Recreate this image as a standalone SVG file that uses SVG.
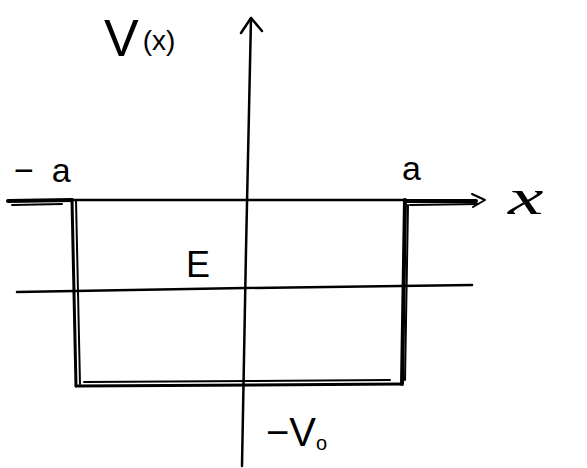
<svg xmlns="http://www.w3.org/2000/svg" width="587" height="468" viewBox="0 0 587 468">
<style>
.ln{fill:none;stroke:#000;stroke-linecap:round;stroke-linejoin:round}
.t{font-family:"Liberation Sans",sans-serif;fill:#000}
.s{font-family:"Liberation Serif",serif;font-style:italic;fill:#000}
</style>
<rect width="587" height="468" fill="#fff"/>
<g id="connectors">
<path class="ln" stroke-width="2.5" d="M242,466 L246,250 L251,18"/>
<path class="ln" stroke-width="2.5" d="M241,33 L251,18 L262,31"/>
<path class="ln" stroke-width="2.5" d="M72,200 L405,200"/>
<path class="ln" stroke-width="2.5" d="M17,292 L245,288 L472,285"/>
</g>
<g id="well">
<path class="ln" stroke-width="4" d="M8,201 L72,200"/>
<path class="ln" stroke-width="2" d="M12,205 L62,204"/>
<path class="ln" stroke-width="3" d="M72,200 L76,386"/>
<path class="ln" stroke-width="2" d="M76,200 L80,384"/>
<path class="ln" stroke-width="3" d="M76,386 L402,384"/>
<path class="ln" stroke-width="2" d="M84,382 L250,381 L390,380"/>
<path class="ln" stroke-width="4" d="M405,200 L402,384"/>
<path class="ln" stroke-width="2" d="M408,205 L405,380"/>
<path class="ln" stroke-width="4" d="M405,201 L476,201"/>
<path class="ln" stroke-width="2" d="M410,205 L478,204"/>
<path class="ln" stroke-width="2" d="M472,194 L485,200 L473,207"/>
</g>
<g id="labels">
<text class="t" x="104" y="56" font-size="52">V<tspan font-size="28" dx="4" dy="-6">(x)</tspan></text>
<text class="t" x="14" y="182" font-size="34">−<tspan dx="18">a</tspan></text>
<text class="t" x="402" y="180" font-size="34">a</text>
<text class="t" x="186" y="277" font-size="36">E</text>
<text class="s" x="0" y="0" font-size="50" transform="translate(508,214) scale(1.6,1)">x</text>
<text class="t" x="266" y="446" font-size="40">−V<tspan font-size="20" dy="4">o</tspan></text>
</g>
</svg>
